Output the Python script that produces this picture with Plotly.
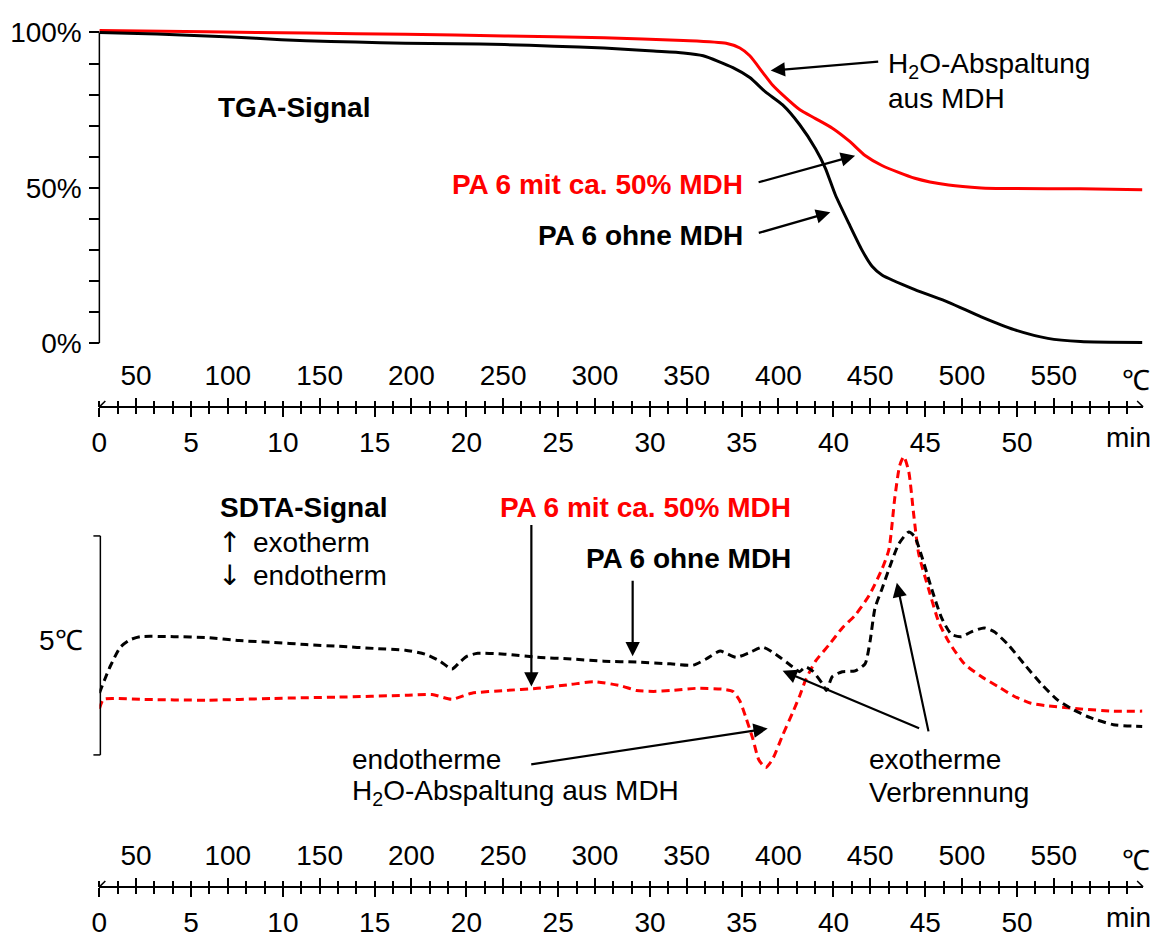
import plotly.graph_objects as go

# ---------------- data ----------------
# TGA (mass %) vs time (min)
tga_red_t = [0, 5.84, 11.26, 16.67, 22.08, 27.49, 31.82, 34.15, 34.90, 35.44, 36.15, 36.69, 37.23,
             38.15, 39.02, 39.94, 40.85, 41.72, 42.64, 44.43, 46.27, 48.05, 49.84, 53.46, 56.82]
tga_red = [100.6, 100.2, 99.8, 99.4, 98.9, 98.3, 97.4, 96.5, 95.0, 92.5, 87.1, 83.0, 79.9,
           75.2, 72.3, 69.2, 65.1, 60.4, 57.2, 53.1, 50.9, 50.0, 49.8, 49.7, 49.4]
tga_blk_t = [0, 3.14, 5.84, 8.55, 11.26, 13.96, 16.67, 19.37, 22.08, 24.78, 27.49, 30.19, 31.82,
             32.90, 34.52, 35.44, 36.31, 37.23, 38.15, 39.02, 39.56, 40.10, 40.85, 41.56, 42.10,
             42.64, 44.43, 46.27, 48.05, 49.84, 51.68, 53.46, 56.82]
tga_blk = [100, 99.5, 98.9, 98.1, 97.3, 96.9, 96.5, 96.4, 96.1, 95.6, 95.0, 94.0, 93.4,
           92.5, 88.7, 85.5, 80.8, 76.7, 70.4, 62.6, 56.3, 47.8, 38.4, 29.9, 24.8,
           22.0, 17.3, 13.2, 8.5, 4.4, 1.6, 0.6, 0.3]

# SDTA signal (°C, arbitrary offset) vs time (min)
sdta_blk_t = [0, 0.27, 0.60, 1.14, 1.68, 2.22, 4.06, 5.84, 7.63, 9.47, 11.26, 13.04, 15.04, 16.67,
              17.75, 18.56, 19.21, 19.64, 20.02, 20.62, 22.08, 23.86, 25.70, 27.49, 29.27, 31.11,
              32.36, 33.06, 33.82, 34.69, 35.44, 36.15, 36.85, 37.77, 38.15, 38.47, 38.85, 39.39,
              39.61, 39.94, 40.48, 41.18, 41.72, 41.99, 42.26, 42.64, 43.02, 43.56, 44.10, 44.43,
              44.81, 45.35, 45.89, 46.43, 46.97, 47.51, 48.21, 48.76, 49.51, 50.38, 51.30, 52.22,
              53.08, 54.00, 55.25, 56.82]
sdta_blk = [1.41, 1.70, 2.03, 2.46, 2.63, 2.70, 2.70, 2.68, 2.61, 2.57, 2.52, 2.48, 2.43, 2.39,
            2.30, 2.14, 1.96, 2.12, 2.25, 2.32, 2.30, 2.23, 2.19, 2.14, 2.12, 2.08,
            2.05, 2.19, 2.37, 2.23, 2.34, 2.46, 2.30, 2.01, 1.90, 2.01, 1.92, 1.63,
            1.47, 1.79, 1.90, 1.92, 2.08, 2.59, 3.35, 3.79, 4.24, 4.82, 5.09, 4.98,
            4.53, 3.79, 3.13, 2.75, 2.70, 2.81, 2.90, 2.81, 2.52, 2.08, 1.63, 1.25,
            1.03, 0.85, 0.69, 0.65]
sdta_red_t = [0, 0.22, 0.81, 2.22, 5.84, 9.47, 13.04, 16.67, 18.13, 19.21, 20.29, 22.08, 23.86,
              25.70, 26.95, 28.41, 29.27, 30.19, 31.11, 32.52, 33.98, 34.52, 34.90, 35.23, 35.61,
              35.93, 36.31, 36.69, 37.23, 37.77, 38.15, 38.47, 39.02, 39.77, 40.48, 41.18, 41.94,
              42.64, 43.02, 43.34, 43.61, 43.83, 44.10, 44.37, 44.64, 45.18, 45.73, 46.27, 47.13,
              48.05, 48.97, 49.84, 50.76, 51.68, 53.46, 55.25, 56.82]
sdta_red = [1.05, 1.27, 1.29, 1.27, 1.25, 1.29, 1.32, 1.36, 1.38, 1.27, 1.41, 1.47, 1.52,
            1.61, 1.67, 1.58, 1.47, 1.45, 1.47, 1.52, 1.50, 1.45, 1.23, 0.85, 0.36,
            -0.11, -0.29, -0.09, 0.45, 0.96, 1.34, 1.70, 2.14, 2.52, 2.90, 3.19, 3.64,
            4.24, 4.69, 5.87, 6.61, 6.81, 6.47, 5.49, 4.60, 3.79, 3.04, 2.59, 2.08,
            1.79, 1.56, 1.34, 1.18, 1.12, 1.05, 1.00, 1.00]

time_ticks = [0, 5, 10, 15, 20, 25, 30, 35, 40, 45, 50]
temp_ticks = [50, 100, 150, 200, 250, 300, 350, 400, 450, 500, 550]
tga_ticks = [0, 50, 100]
tga_ticklabels = ["0%", "50%", "100%"]

# ---------------- layout helpers ----------------
W, H = 1159, 938
FONT = "Liberation Sans, Arial, sans-serif"
FS = 28
RED = "#FF0000"


def px(x):
    return x / W


def py(y):
    return 1 - y / H


T_MAX = 56.87            # min at right end of axis
TEMP0, RATE = 30.0, 10.0  # °C at t=0, K/min
XDOM = [px(92), px(1143)]

fig = go.Figure()

# TGA curves
fig.add_trace(go.Scatter(x=tga_red_t, y=tga_red, xaxis="x", yaxis="y", mode="lines",
                         line=dict(color=RED, width=3, shape="spline", smoothing=0.6),
                         showlegend=False, hoverinfo="skip"))
fig.add_trace(go.Scatter(x=tga_blk_t, y=tga_blk, xaxis="x", yaxis="y", mode="lines",
                         line=dict(color="black", width=3, shape="spline", smoothing=0.6),
                         showlegend=False, hoverinfo="skip"))
# SDTA curves
fig.add_trace(go.Scatter(x=sdta_red_t, y=sdta_red, xaxis="x3", yaxis="y2", mode="lines",
                         line=dict(color=RED, width=3, dash="8px,5px", shape="spline", smoothing=0.6),
                         showlegend=False, hoverinfo="skip"))
fig.add_trace(go.Scatter(x=sdta_blk_t, y=sdta_blk, xaxis="x3", yaxis="y2", mode="lines",
                         line=dict(color="black", width=3, dash="8px,5px", shape="spline", smoothing=0.6),
                         showlegend=False, hoverinfo="skip"))
# helper (invisible) traces so that temperature axes get drawn
fig.add_trace(go.Scatter(x=temp_ticks, y=[None] * len(temp_ticks), xaxis="x2", yaxis="y",
                         mode="lines", showlegend=False, hoverinfo="skip"))
fig.add_trace(go.Scatter(x=temp_ticks, y=[None] * len(temp_ticks), xaxis="x4", yaxis="y2",
                         mode="lines", showlegend=False, hoverinfo="skip"))

tickfont = dict(family=FONT, size=FS, color="black")


def time_axis(pos):
    return dict(domain=XDOM, range=[0, T_MAX], anchor="free", position=pos, side="bottom",
                showline=True, linecolor="black", linewidth=1.5, showgrid=False, zeroline=False,
                ticks="outside", ticklen=9, tickwidth=1.5, tickcolor="black",
                tickmode="array", tickvals=time_ticks, ticktext=[str(v) for v in time_ticks],
                minor=dict(ticks="outside", dtick=1, tick0=0, ticklen=6, tickwidth=1.5,
                           tickcolor="black", showgrid=False),
                tickfont=tickfont, ticklabelstandoff=2)


def temp_axis(over, pos):
    return dict(overlaying=over, range=[TEMP0, TEMP0 + RATE * T_MAX], anchor="free", position=pos,
                side="top", showline=False, showgrid=False, zeroline=False,
                ticks="outside", ticklen=9, tickwidth=1.5, tickcolor="black",
                tickmode="array", tickvals=temp_ticks, ticktext=[str(v) for v in temp_ticks],
                minor=dict(ticks="outside", dtick=10, tick0=0, ticklen=6, tickwidth=1.5,
                           tickcolor="black", showgrid=False),
                tickfont=tickfont, ticklabelstandoff=2)


TOP_AX_Y = 407
BOT_AX_Y = 898

fig.update_layout(
    width=W, height=H, margin=dict(l=0, r=0, t=0, b=0),
    paper_bgcolor="white", plot_bgcolor="rgba(0,0,0,0)",
    font=dict(family=FONT, size=FS, color="black"),
    showlegend=False,
    xaxis=time_axis(py(TOP_AX_Y)),
    xaxis2=temp_axis("x", py(TOP_AX_Y)),
    xaxis3=time_axis(py(BOT_AX_Y)),
    xaxis4=temp_axis("x3", py(BOT_AX_Y)),
    yaxis=dict(domain=[py(348.36), py(17.64)], range=[-2, 102], anchor="free", position=px(92),
               showline=False, showgrid=False, zeroline=False,
               ticks="outside", ticklen=10, tickwidth=1.5, tickcolor="black",
               tickmode="array", tickvals=tga_ticks, ticktext=tga_ticklabels,
               minor=dict(ticks="outside", dtick=10, tick0=0, ticklen=10, tickwidth=1.5,
                          tickcolor="black", showgrid=False),
               tickfont=tickfont, ticklabelstandoff=2),
    yaxis2=dict(domain=[py(800), py(440)], range=[-0.826, 7.21], anchor="free", position=px(92),
                visible=False),
)

# ---------------- shapes: axis lines, scale bar, axis end marks ----------------
lw = 1.5
shapes = []
# TGA y axis line (0..100 %)
shapes.append(dict(type="line", xref="paper", yref="y", x0=px(92), x1=px(92), y0=0, y1=100,
                   line=dict(color="black", width=lw)))
# SDTA 5 °C scale bar
shapes.append(dict(type="line", xref="paper", yref="y2", x0=px(93), x1=px(93), y0=0, y1=5,
                   line=dict(color="black", width=lw)))
for yv in (0, 5):
    shapes.append(dict(type="line", xref="paper", yref="y2", x0=px(86), x1=px(93), y0=yv, y1=yv,
                       line=dict(color="black", width=lw)))
# half arrow marks at both ends of the time/temperature axes
for ay_ in (TOP_AX_Y, BOT_AX_Y):
    shapes.append(dict(type="line", xref="paper", yref="paper", x0=px(92), y0=py(ay_),
                       x1=px(98), y1=py(ay_ - 6), line=dict(color="black", width=lw)))
    shapes.append(dict(type="line", xref="paper", yref="paper", x0=px(1137), y0=py(ay_ - 6),
                       x1=px(1143), y1=py(ay_), line=dict(color="black", width=lw)))
fig.update_layout(shapes=shapes)


# ---------------- annotations ----------------
def text(x, y, s, anchor="left", bold=False, color="black", size=FS, family=FONT):
    if bold:
        s = "<b>" + s + "</b>"
    fig.add_annotation(x=px(x), y=py(y), xref="paper", yref="paper", text=s, showarrow=False,
                       xanchor=anchor, yanchor="middle",
                       font=dict(family=family, size=size, color=color))


def arrow(hx, hy, tx, ty):
    fig.add_annotation(x=px(hx), y=py(hy), xref="paper", yref="paper", text="",
                       ax=tx - hx, ay=ty - hy, axref="pixel", ayref="pixel",
                       showarrow=True, arrowhead=2, arrowsize=1.3, arrowwidth=2.2,
                       arrowcolor="black", standoff=0, startstandoff=0)


# axis unit labels
for ay_ in (TOP_AX_Y, BOT_AX_Y):
    text(1136, ay_ - 27, "℃", anchor="center")
    text(1128, ay_ + 31, "min", anchor="center")

# top panel
text(209, 101, "TGA-Signal", bold=True)
text(884, 58, "H<sub>2</sub>O-Abspaltung")
text(884, 92, "aus MDH")
text(742, 180, "PA 6 mit ca. 50% MDH", anchor="right", bold=True, color=RED)
text(742, 232, "PA 6 ohne MDH", anchor="right", bold=True)
arrow(768, 63, 877, 54)
arrow(853, 150, 755, 177)
arrow(828, 208, 755, 229)

# bottom panel
text(78, 646, "5℃", anchor="right")
text(211, 510, "SDTA-Signal", bold=True)
text(223, 546, "↑", anchor="center", family="DejaVu Sans")
text(245, 546, "exotherm")
text(223, 579, "↓", anchor="center", family="DejaVu Sans")
text(245, 579, "endotherm")
text(790, 510, "PA 6 mit ca. 50% MDH", anchor="right", bold=True, color=RED)
text(790, 562, "PA 6 ohne MDH", anchor="right", bold=True)
text(344, 768, "endotherme")
text(344, 801, "H<sub>2</sub>O-Abspaltung aus MDH")
text(865, 768, "exotherme")
text(865, 801, "Verbrennung")
arrow(527, 693, 527, 530)
arrow(629, 662, 629, 585)
arrow(765, 736, 527, 772)
arrow(780, 677, 918, 735)
arrow(895, 587, 927, 737)

fig.write_html("out.html",
               config={"displayModeBar": False},
               post_script="document.body.style.margin='0';document.body.style.padding='0';"
                           "document.body.style.overflow='hidden';")
